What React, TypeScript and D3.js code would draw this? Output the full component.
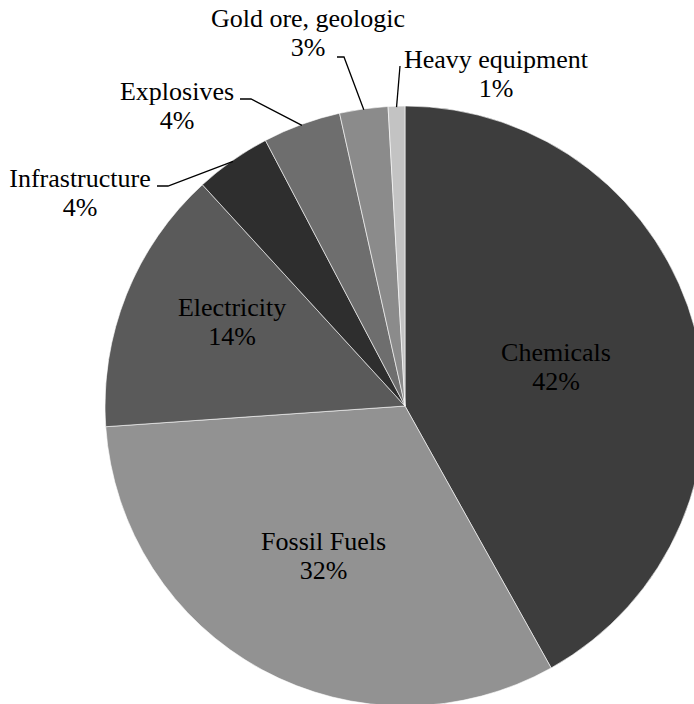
import React, { useEffect } from "react";
import * as d3 from "d3";

// Share of each source, in percent
const categories = [
  "Chemicals",
  "Fossil Fuels",
  "Electricity",
  "Infrastructure",
  "Explosives",
  "Gold ore, geologic",
  "Heavy equipment",
];
const shares = [41.9, 32.0, 14.3, 4.1, 4.2, 2.6, 0.9];
const fills = ["#3d3d3d", "#929292", "#5a5a5a", "#2e2e2e", "#6e6e6e", "#8b8b8b", "#c3c3c3"];

const WIDTH = 694;
const HEIGHT = 704;
const CX = 405;
const CY = 406;
const R = 300;
const FONT_SIZE = 26;
const LINE_GAP = 29;

// Label placement: inside labels sit on a radius fraction (with an optional angular nudge, degrees);
// outside labels have explicit anchors and leader elbows
type LabelSpot =
  | { kind: "inside"; radius: number; nudge: number }
  | { kind: "outside"; x: number; y: number; leader: [number, number][] };

const labelSpots: LabelSpot[] = [
  { kind: "inside", radius: 0.52, nudge: 0 },
  { kind: "inside", radius: 0.57, nudge: 0 },
  { kind: "inside", radius: 0.64, nudge: 4 },
  { kind: "outside", x: 80, y: 187, leader: [[157, 186], [168, 186]] },
  { kind: "outside", x: 177, y: 100, leader: [[240, 99], [251, 99]] },
  { kind: "outside", x: 308, y: 27, leader: [[337, 57], [344, 57]] },
  { kind: "outside", x: 496, y: 68, leader: [[400, 66]] },
];

function Label({ x, y, lines }: { x: number; y: number; lines: string[] }) {
  return (
    <>
      {lines.map((t, k) => (
        <text
          key={k}
          x={x}
          y={y + k * LINE_GAP}
          textAnchor="middle"
          fontFamily="Liberation Serif"
          fontSize={FONT_SIZE}
          style={{ fontFamily: "Liberation Serif" }}
          fill="#000"
        >
          {t}
        </text>
      ))}
    </>
  );
}

export default function App() {
  useEffect(() => {
    document.body.style.margin = "0";
  }, []);

  const pie = d3
    .pie<number>()
    .sort(null)
    .value((d) => d)
    .startAngle(0)
    .endAngle(2 * Math.PI);
  const arcs = pie(shares);
  const arc = d3.arc<d3.PieArcDatum<number>>().innerRadius(0).outerRadius(R);

  const pct = (v: number) => `${Math.round(v)}%`;

  return (
    <svg width={WIDTH} height={HEIGHT} style={{ display: "block", fontFamily: "Liberation Serif" }}>
      <rect width={WIDTH} height={HEIGHT} fill="#ffffff" />
      <g transform={`translate(${CX},${CY})`}>
        {arcs.map((a, i) => (
          <path key={categories[i]} d={arc(a) || ""} fill={fills[i]} stroke="#ffffff" strokeWidth={0.6} />
        ))}
      </g>
      {arcs.map((a, i) => {
        const spot = labelSpots[i];
        const mid = (a.startAngle + a.endAngle) / 2;
        const lines = [categories[i], pct(shares[i])];
        if (spot.kind === "inside") {
          const ang = mid + (spot.nudge * Math.PI) / 180;
          const x = CX + Math.sin(ang) * R * spot.radius;
          const y = CY - Math.cos(ang) * R * spot.radius;
          return <Label key={`l-${i}`} x={x} y={y - 6} lines={lines} />;
        }
        const edgeX = CX + Math.sin(mid) * (R - 1);
        const edgeY = CY - Math.cos(mid) * (R - 1);
        const pts: [number, number][] = [...spot.leader, [edgeX, edgeY]];
        return (
          <g key={`l-${i}`}>
            <path d={d3.line()(pts) || ""} fill="none" stroke="#000" strokeWidth={1.3} />
            <Label x={spot.x} y={spot.y} lines={lines} />
          </g>
        );
      })}
    </svg>
  );
}
